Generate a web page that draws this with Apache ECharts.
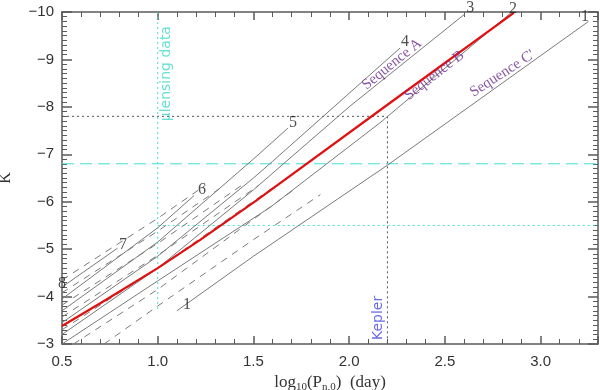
<!DOCTYPE html>
<html>
<head>
<meta charset="utf-8">
<script src="https://cdn.jsdelivr.net/npm/echarts@6/dist/echarts.min.js"></script>
<style>
  html, body { margin: 0; padding: 0; background: #fff; }
  #main { width: 600px; height: 390px; }
</style>
</head>
<body>
<div id="main"></div>
<script>
// solid model lines, [log10 P, K]
const line1 = [[1.10, -3.70], [1.50, -4.85], [2.20, -6.77], [3.25, -9.80]];
const line2 = [[0.50, -3.00], [1.00, -4.33], [1.59, -5.89], [2.16, -7.66], [2.85, -10.0]];
const line3 = [[0.50, -3.20], [1.00, -4.60], [1.50, -6.25], [2.00, -8.00], [2.605, -9.96]];
const line4 = [[0.50, -3.45], [1.00, -4.85], [1.50, -6.50], [1.60, -6.85], [2.266, -9.24]];
const line5 = [[0.50, -3.70], [1.00, -5.15], [1.50, -6.90], [1.68, -7.55]];
const line6 = [[0.50, -3.95], [1.00, -5.45], [1.19, -6.13]];
const line7 = [[0.50, -4.20], [0.79, -5.02]];
// dashed lines
const dash1 = [[0.50, -4.35], [1.00, -5.65], [1.25, -6.35]];
const dash2 = [[0.50, -4.08], [1.00, -5.38], [1.35, -6.35]];
const dash3 = [[0.50, -3.82], [1.00, -5.12], [1.44, -6.35]];
const dash4 = [[0.50, -3.57], [1.00, -4.87], [1.53, -6.35]];
const dash5 = [[0.50, -3.30], [1.00, -4.60], [1.62, -6.35]];
const dash6 = [[0.56, -3.00], [1.00, -4.15], [1.71, -6.25]];
const dash7 = [[0.72, -3.00], [1.00, -3.80], [1.50, -5.20], [1.85, -6.15]];
// sequence B fit (red)
const seqB = [[0.50, -3.38], [0.70, -3.86], [1.00, -4.60], [1.22, -5.19], [1.52, -6.04], [2.27, -8.25], [2.86, -9.98]];

// reference lines
const lensX = 1.0;
const lensKmax = -3.7;
const ogleK = -6.8;
const lensK = -5.5;
const keplerX = 2.2;
const keplerK = -7.8;

// labels
const orderLabels = [
  ['1', 3.232, -9.89], ['2', 2.856, -10.06], ['3', 2.632, -10.08], ['4', 2.292, -9.37],
  ['5', 1.707, -7.66], ['6', 1.231, -6.25], ['7', 0.819, -5.09], ['8', 0.50, -4.27],
  ['1', 1.153, -3.82]
];
const seqLabels = [
  ['Sequence A', 2.224, -8.90, 39], ['Sequence B', 2.445, -8.66, 38], ["Sequence C'", 2.80, -8.70, 33]
];
const sideLabels = [
  ['\u03bclensing data', 1.045, -8.70, '#40d8c8'], ['Kepler', 2.151, -3.55, '#4444e0']
];

const chart = echarts.init(document.getElementById('main'));
const axisColor = '#5a5a5a';
const gray = '#7a7a7a';

function solid(d) {
  return { type: 'line', data: d, showSymbol: false, lineStyle: { color: gray, width: 1 }, z: 3 };
}
function dashed(d) {
  return { type: 'line', data: d, showSymbol: false, lineStyle: { color: gray, width: 1, type: [7, 6] }, z: 3 };
}
function xAx(pos, labels) {
  return {
    type: 'value', position: pos, min: 0.5, max: 3.3, interval: 0.5,
    axisLine: { lineStyle: { color: axisColor, width: 1.5 } },
    axisTick: { show: true, inside: true, length: 8, lineStyle: { color: axisColor, width: 1.5 } },
    minorTick: { show: true, splitNumber: 5, length: 5, lineStyle: { color: axisColor, width: 1 } },
    splitLine: { show: false },
    axisLabel: { show: labels, showMaxLabel: false, color: '#333', fontSize: 15, fontFamily: 'Liberation Sans', margin: 10,
      formatter: v => v.toFixed(1) },
    name: labels ? '{t|log}{s|10}{t|(P}{s|n,0}{t|)  (day)}' : '',
    nameLocation: 'middle', nameGap: 28,
    nameTextStyle: { rich: {
      t: { fontFamily: 'Liberation Serif', fontSize: 17, color: '#333' },
      s: { fontFamily: 'Liberation Serif', fontSize: 11, color: '#333', padding: [9, 0, 0, 0] }
    } }
  };
}
function yAx(pos, labels) {
  return {
    type: 'value', position: pos, min: -10, max: -3, interval: 1, inverse: true,
    axisLine: { lineStyle: { color: axisColor, width: 1.5 } },
    axisTick: { show: true, inside: true, length: 10, lineStyle: { color: axisColor, width: 1.5 } },
    minorTick: { show: true, splitNumber: 10, length: 5, lineStyle: { color: axisColor, width: 1 } },
    splitLine: { show: false },
    axisLabel: { show: labels, color: '#333', fontSize: 15, fontFamily: 'Liberation Sans', margin: 8,
      formatter: v => '\u2212' + Math.abs(v) },
    name: labels ? 'K' : '', nameLocation: 'middle', nameGap: 48, nameRotate: 90,
    nameTextStyle: { fontFamily: 'Liberation Serif', fontSize: 16, color: '#333' }
  };
}

const textSeries = {
  type: 'scatter', symbolSize: 0, clip: false, z: 5, silent: true,
  data: orderLabels.map(l => ({ value: [l[1], l[2]], name: l[0] })),
  label: { show: true, position: 'inside', formatter: p => p.name,
    fontFamily: 'Liberation Serif', fontSize: 16, color: '#222' }
};
const seqSeries = {
  type: 'scatter', symbolSize: 0, clip: false, z: 5, silent: true,
  data: seqLabels.map(l => ({ value: [l[1], l[2]], name: l[0],
    label: { rotate: l[3] } })),
  label: { show: true, position: 'inside', formatter: p => p.name,
    fontFamily: 'Liberation Serif', fontSize: 15, color: '#6b2d8c' }
};
const sideSeries = {
  type: 'scatter', symbolSize: 0, clip: false, z: 5, silent: true,
  data: sideLabels.map(l => ({ value: [l[1], l[2]], name: l[0],
    label: { color: l[3] } })),
  label: { show: true, position: 'inside', rotate: 90, formatter: p => p.name,
    fontFamily: 'DejaVu Sans', fontSize: 14 }
};

const option = {
  animation: false,
  backgroundColor: '#fff',
  grid: { left: 62, right: 2, top: 12, bottom: 46, containLabel: false, outerBoundsMode: 'none' },
  xAxis: [xAx('bottom', true), xAx('top', false)],
  yAxis: [yAx('left', true), yAx('right', false)],
  series: [
    solid(line1), solid(line2), solid(line3), solid(line4), solid(line5), solid(line6), solid(line7),
    dashed(dash1), dashed(dash2), dashed(dash3), dashed(dash4), dashed(dash5), dashed(dash6), dashed(dash7),
    { type: 'line', data: seqB, showSymbol: false, lineStyle: { color: '#e01010', width: 2.2 }, z: 4 },
    // guide lines
    { type: 'line', data: [[0.5, ogleK], [3.3, ogleK]], showSymbol: false,
      lineStyle: { color: '#40e0d0', width: 1, type: [12, 6] }, z: 2 },
    { type: 'line', data: [[lensX, lensK], [3.3, lensK]], showSymbol: false,
      lineStyle: { color: '#40e0d0', width: 1, type: [2, 3] }, z: 2 },
    { type: 'line', data: [[lensX, -10], [lensX, lensKmax]], showSymbol: false,
      lineStyle: { color: '#40e0d0', width: 1, type: [2, 3] }, z: 2 },
    { type: 'line', data: [[0.5, keplerK], [keplerX, keplerK]], showSymbol: false,
      lineStyle: { color: '#555', width: 1, type: [2, 3] }, z: 2 },
    { type: 'line', data: [[keplerX, keplerK], [keplerX, -3]], showSymbol: false,
      lineStyle: { color: '#555', width: 1, type: [2, 3] }, z: 2 },
    textSeries, seqSeries, sideSeries
  ]
};
chart.setOption(option);
</script>
</body>
</html>
